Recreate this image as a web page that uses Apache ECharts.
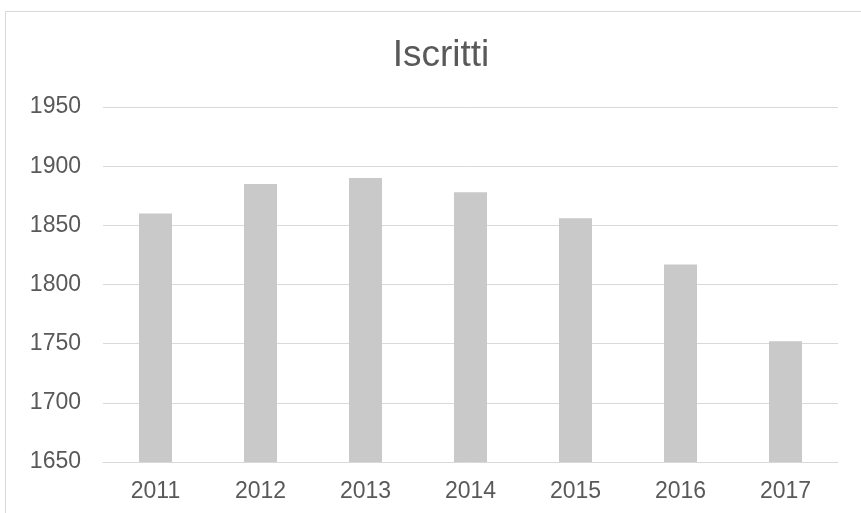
<!DOCTYPE html>
<html>
<head>
<meta charset="utf-8">
<script src="https://cdn.jsdelivr.net/npm/echarts@6/dist/echarts.min.js"></script>
<style>
  html, body { margin: 0; padding: 0; background: #fff; overflow: hidden; }
  #frame { position: absolute; left: 5px; top: 11px; width: 900px; height: 600px; border: 1px solid #d9d9d9; }
  #main { position: absolute; left: 0; top: 0; width: 861px; height: 513px; }
</style>
</head>
<body>
<div id="frame"></div>
<div id="main"></div>
<script>
const years = ['2011', '2012', '2013', '2014', '2015', '2016', '2017'];
const iscritti = [1860, 1885, 1890, 1878, 1856, 1817, 1752];
const yMin = 1650, yMax = 1950, yStep = 50;

let chart = echarts.init(document.getElementById('main'));
chart.setOption({
  animation: false,
  textStyle: { fontFamily: 'Liberation Sans, Arial, sans-serif' },
  title: {
    text: 'Iscritti',
    left: 436,
    textAlign: 'center',
    top: 32,
    textStyle: { fontSize: 37, fontWeight: 'normal', color: '#595959' }
  },
  grid: { left: 103, right: 23, top: 107, bottom: 51 },
  xAxis: {
    type: 'category',
    data: years,
    axisLine: { lineStyle: { color: '#d9d9d9', width: 1 } },
    axisTick: { show: false },
    axisLabel: { color: '#595959', fontSize: 23, margin: 18 }
  },
  yAxis: {
    type: 'value',
    min: yMin,
    max: yMax,
    interval: yStep,
    axisLine: { show: false },
    axisTick: { show: false },
    axisLabel: { color: '#595959', fontSize: 23, margin: 22, formatter: v => String(v) },
    splitLine: { lineStyle: { color: '#d9d9d9', width: 1 } }
  },
  series: [{
    name: 'Iscritti',
    type: 'bar',
    data: iscritti,
    barWidth: 33,
    itemStyle: { color: '#c9c9c9' }
  }]
});
</script>
</body>
</html>
